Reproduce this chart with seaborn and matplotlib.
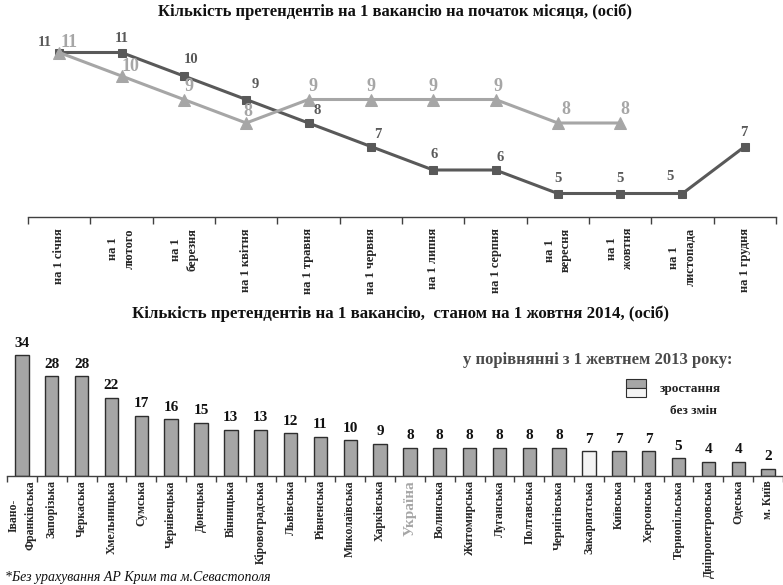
import numpy as np
import pandas as pd
import matplotlib
matplotlib.use("Agg")
import matplotlib.pyplot as plt
from matplotlib.patches import Rectangle
import seaborn as sns

# ---- data -------------------------------------------------------------
months = ["на 1 січня", "на 1\nлютого", "на 1\nберезня", "на 1 квітня",
          "на 1 травня", "на 1 червня", "на 1 липня", "на 1 серпня",
          "на 1\nвересня", "на 1\nжовтня", "на 1\nлистопада", "на 1 грудня"]
applicants_2013 = [11, 11, 10, 9, 8, 7, 6, 6, 5, 5, 5, 7]
applicants_2014 = [11, 10, 9, 8, 9, 9, 9, 9, 8, 8]

regions = ["Івано-\nФранківська", "Запорізька", "Черкаська", "Хмельницька",
           "Сумська", "Чернівецька", "Донецька", "Вінницька", "Кіровоградська",
           "Львівська", "Рівненська", "Миколаївська", "Харківська", "Україна",
           "Волинська", "Житомирська", "Луганська", "Полтавська", "Чернігівська",
           "Закарпатська", "Київська", "Херсонська", "Тернопільська",
           "Дніпропетровська", "Одеська", "м. Київ"]
region_values = [34, 28, 28, 22, 17, 16, 15, 13, 13, 12, 11, 10, 9, 8,
                 8, 8, 8, 8, 8, 7, 7, 7, 5, 4, 4, 2]
region_status = ["зростання"] * 19 + ["без змін"] + ["зростання"] * 6

title_top = "Кількість претендентів на 1 вакансію на початок місяця, (осіб)"
title_bottom = "Кількість претендентів на 1 вакансію,  станом на 1 жовтня 2014, (осіб)"
legend_title = "у порівнянні з 1 жевтнем 2013 року:"
footnote = "*Без урахування АР Крим та м.Севастополя"

# ---- style ------------------------------------------------------------
DARK = "#595959"
LIGHT = "#a6a6a6"
PALE = "#f4f4f4"
EDGE = "#2e2e2e"

sns.set_theme(style="white")
plt.rcParams["font.family"] = ["Liberation Serif", "DejaVu Serif"]
plt.rcParams["font.weight"] = "bold"

W, H = 783, 585
fig = plt.figure(figsize=(W / 100, H / 100), dpi=100)


def fx(px):
    return px / W


def fy(py):
    return 1 - py / H


ax1 = fig.add_axes([fx(28), fy(217), fx(776 - 28), (217 - 29) / H])
ax2 = fig.add_axes([fx(7), fy(476), fx(783 - 7), (476 - 348) / H])

# ---- top: monthly lines -----------------------------------------------
pos = np.arange(len(months))
sns.lineplot(x=pos, y=applicants_2013, ax=ax1, color=DARK, linewidth=2.2,
             marker="s", markersize=6, markeredgecolor=DARK)
pos14 = pos[:len(applicants_2014)]
sns.lineplot(x=pos14, y=applicants_2014, ax=ax1, color=LIGHT, linewidth=2.2,
             marker="^", markersize=8, markeredgecolor=LIGHT)

# value labels (label-centre offsets in points)
dark_offsets = [(-10, 7), (0, 10), (5, 12), (6.5, 11), (6, 9), (5, 9),
                (1, 11.5), (3, 9), (0, 11), (0, 11), (-9, 12), (-1, 10)]
for xi, v, off in zip(pos, applicants_2013, dark_offsets):
    ax1.annotate(str(v), (xi, v), xytext=off, textcoords="offset points",
                 ha="center", va="center", fontsize=10.5, color=DARK,
                 fontweight="bold")
light_offsets = [(7, 7), (6.5, 7), (3.5, 9.5), (1.5, 8), (3, 9.5), (0, 9.5),
                 (0, 9.5), (1.5, 9.5), (6, 9.5), (3.5, 9.5)]
for xi, v, off in zip(pos14, applicants_2014, light_offsets):
    ax1.annotate(str(v), (xi, v), xytext=off, textcoords="offset points",
                 ha="center", va="center", fontsize=13, color=LIGHT,
                 fontweight="bold")

ax1.set_xlim(-0.5, len(months) - 0.5)
ax1.set_ylim(4, 12)
ax1.set_yticks([])
ax1.set_xticks(pos)
ax1.set_xticklabels(months, rotation=90, fontsize=9, fontweight="bold",
                    va="top", ha="center", multialignment="center",
                    linespacing=1.5)
ax1.set_xticks(np.arange(-0.5, len(months), 1), minor=True)
ax1.tick_params(axis="x", which="major", length=0, pad=8)
ax1.tick_params(axis="x", which="minor", bottom=True, length=5, width=1,
                color="#404040")
for s in ["top", "left", "right"]:
    ax1.spines[s].set_visible(False)
ax1.spines["bottom"].set_color("#404040")
ax1.spines["bottom"].set_linewidth(1)
ax1.set_xlabel("")
ax1.set_ylabel("")

# ---- bottom: regional bars -------------------------------------------
df = pd.DataFrame({"region": regions, "value": region_values,
                   "status": region_status})
sns.barplot(data=df, x="region", y="value", hue="status", order=regions,
            hue_order=["зростання", "без змін"],
            palette={"зростання": LIGHT, "без змін": PALE},
            dodge=False, width=0.45, edgecolor=EDGE, linewidth=1,
            legend=False, ax=ax2)
for cont in ax2.containers:
    ax2.bar_label(cont, fontsize=11, fontweight="bold", padding=4,
                  color="#111111")

ax2.set_xlim(-0.5, len(regions) - 0.5)
ax2.set_ylim(0, 36)
ax2.set_yticks([])
ax2.set_xticks(np.arange(len(regions)))
ax2.set_xticklabels(regions, rotation=90, fontsize=8.5, fontweight="bold",
                    va="top", ha="center", multialignment="center",
                    linespacing=1.6)
for lab in ax2.get_xticklabels():
    if lab.get_text() == "Україна":
        lab.set_color(LIGHT)
        lab.set_fontsize(11)
ax2.set_xticks(np.arange(-0.5, len(regions), 1), minor=True)
ax2.tick_params(axis="x", which="major", length=0, pad=3)
ax2.tick_params(axis="x", which="minor", bottom=True, length=4, width=1,
                color="#404040")
for s in ["top", "left", "right"]:
    ax2.spines[s].set_visible(False)
ax2.spines["bottom"].set_color("#404040")
ax2.spines["bottom"].set_linewidth(1)
ax2.set_xlabel("")
ax2.set_ylabel("")

# ---- titles, legend, footnote ----------------------------------------
fig.text(fx(395), fy(12), title_top, ha="center", va="center",
         fontsize=12, fontweight="bold", color="#111111")
fig.text(fx(400), fy(314), title_bottom, ha="center", va="center",
         fontsize=12.2, fontweight="bold", color="#111111")

fig.text(fx(598), fy(360), legend_title, ha="center", va="center",
         fontsize=12, fontweight="bold", color="#4a4a4a")
fig.add_artist(Rectangle((fx(626), fy(388)), fx(20), 9 / H,
                         transform=fig.transFigure, facecolor=LIGHT,
                         edgecolor=EDGE, linewidth=0.8))
fig.add_artist(Rectangle((fx(626), fy(397)), fx(20), 9 / H,
                         transform=fig.transFigure, facecolor=PALE,
                         edgecolor=EDGE, linewidth=0.8))
fig.text(fx(660), fy(389), "зростання", ha="left", va="center",
         fontsize=9.5, fontweight="bold", color="#222222")
fig.text(fx(670), fy(411), "без змін", ha="left", va="center",
         fontsize=9.5, fontweight="bold", color="#222222")

fig.text(fx(5), fy(577), footnote, ha="left", va="center",
         fontsize=10, fontweight="normal", style="italic", color="#111111")

fig.savefig("out.png", dpi=100)
